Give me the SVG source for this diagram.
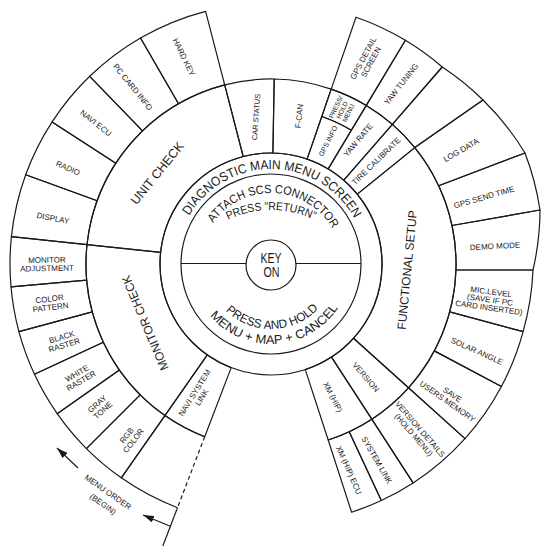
<svg xmlns="http://www.w3.org/2000/svg" width="542" height="557" viewBox="0 0 542 557">
<style>
.c{fill:none;stroke:#1a1a1a;stroke-width:1.2;stroke-linejoin:round}
.t{font-family:"Liberation Sans",Arial,sans-serif;font-size:8px;fill:#1a1a1a;text-anchor:middle}
.s75{font-size:7.5px}
.s7{font-size:7px}
.s6{font-size:6.5px}
.big{font-size:12.5px}
.m12{font-size:12px}
.ring{font-family:"Liberation Sans",Arial,sans-serif;fill:#1a1a1a}
.dash{fill:none;stroke:#1a1a1a;stroke-width:1.2;stroke-dasharray:4 3}
</style>
<defs>
<marker id="ah" viewBox="0 0 11 7" refX="11" refY="3.5" markerWidth="11" markerHeight="7" markerUnits="userSpaceOnUse" orient="auto"><path d="M0,0 L11,3.5 L0,7 Z" fill="#1a1a1a"/></marker>
<path id="arcDiag" d="M 176,264 A 95 95 0 0 1 366,264"/>
<path id="arcAttach" d="M 200,264 A 71 71 0 0 1 342,264"/>
<path id="arcReturn" d="M 171,310 A 100 100 0 0 1 371,310"/>
<path id="arcHold" d="M 206,264 A 65 65 0 0 0 336,264"/>
<path id="arcMenu" d="M 191,264 A 80 80 0 0 0 351,264"/>
</defs>
<rect width="542" height="557" fill="#fff"/>

<g id="diagnostic-main-menu-screen">
<circle class="c" cx="271" cy="264" r="111"/>
<circle class="c" cx="271" cy="264" r="90"/>
<text class="ring" font-size="13"><textPath href="#arcDiag" startOffset="50.5%" text-anchor="middle" textLength="200" lengthAdjust="spacingAndGlyphs">DIAGNOSTIC MAIN MENU SCREEN</textPath></text>
</g>
<g id="attach-scs-connector">
<text class="ring" font-size="12"><textPath href="#arcAttach" startOffset="51.5%" text-anchor="middle" textLength="142" lengthAdjust="spacingAndGlyphs">ATTACH SCS CONNECTOR</textPath></text>
<text class="ring" font-size="11.5"><textPath href="#arcReturn" startOffset="50%" text-anchor="middle" textLength="89" lengthAdjust="spacingAndGlyphs">PRESS "RETURN"</textPath></text>
</g>
<g id="press-and-hold">
<text class="ring" font-size="12"><textPath href="#arcHold" startOffset="50.7%" text-anchor="middle" textLength="103" lengthAdjust="spacingAndGlyphs">PRESS AND HOLD</textPath></text>
<text class="ring" font-size="12.5"><textPath href="#arcMenu" startOffset="52%" text-anchor="middle" textLength="149" lengthAdjust="spacingAndGlyphs">MENU + MAP + CANCEL</textPath></text>
</g>
<g id="key-on">
<path class="c" d="M 181,263.5 L 246,263.5 M 296,263.5 L 361,263.5"/>
<circle class="c" cx="271" cy="265" r="25"/>
<text class="ring" font-size="14" text-anchor="middle" x="271" y="263" textLength="21" lengthAdjust="spacingAndGlyphs">KEY</text>
<text class="ring" font-size="14" text-anchor="middle" x="271.5" y="276.5" textLength="16" lengthAdjust="spacingAndGlyphs">ON</text>
</g>

<g id="unit-check"><path class="c" d="M 160.6,252.4 L 87.0,244.7 A 185 185 0 0 1 224.7,84.9 L 243.2,156.5 A 111 111 0 0 0 160.6,252.4 Z"/><text class="t big" transform="translate(157,173) rotate(-51)" y="4.5">UNIT CHECK</text></g>
<g id="car-status"><path class="c" d="M 243.2,156.5 L 224.7,84.9 A 185 185 0 0 1 274.2,79.0 L 272.9,153.0 A 111 111 0 0 0 243.2,156.5 Z"/><text class="t s75" transform="translate(256,117) rotate(-86)" y="2.7">CAR STATUS</text></g>
<g id="f-can"><path class="c" d="M 272.9,153.0 L 274.2,79.0 A 185 185 0 0 1 331.2,89.1 L 307.1,159.1 A 111 111 0 0 0 272.9,153.0 Z"/><text class="t" transform="translate(299,116) rotate(-84)" y="2.9">F-CAN</text></g>
<g id="gps-info"><path class="c" d="M 307.1,159.1 L 321.8,116.5 A 156 156 0 0 1 351.3,130.3 L 328.2,168.9 A 111 111 0 0 0 307.1,159.1 Z"/><text class="t s7" transform="translate(328,141) rotate(-63)" y="2.5">GPS INFO</text></g>
<g id="press-hold-menu"><path class="c" d="M 321.8,116.5 L 331.2,89.1 A 185 185 0 0 1 366.3,105.4 L 351.3,130.3 A 156 156 0 0 0 321.8,116.5 Z"/><text class="t s6" transform="translate(342,110) rotate(-65)"><tspan x="0" y="-4.6">PRESS/</tspan><tspan x="0" y="2.3">HOLD</tspan><tspan x="0" y="9.2">MENU</tspan></text></g>
<g id="yaw-rate"><path class="c" d="M 328.2,168.9 L 366.3,105.4 A 185 185 0 0 1 392.4,124.4 L 343.8,180.2 A 111 111 0 0 0 328.2,168.9 Z"/><text class="t" transform="translate(358,140) rotate(-50)" y="2.9">YAW RATE</text></g>
<g id="tire-calibrate"><path class="c" d="M 343.8,180.2 L 392.4,124.4 A 185 185 0 0 1 414.8,147.6 L 357.3,194.1 A 111 111 0 0 0 343.8,180.2 Z"/><text class="t" transform="translate(376,161) rotate(-44)" y="2.9">TIRE CALIBRATE</text></g>
<g id="functional-setup"><path class="c" d="M 357.3,194.1 L 414.8,147.6 A 185 185 0 0 1 408.5,387.8 L 353.5,338.3 A 111 111 0 0 0 357.3,194.1 Z"/><text class="t m12" transform="translate(407,270) rotate(-84.5)" y="4.3">FUNCTIONAL SETUP</text></g>
<g id="version"><path class="c" d="M 353.5,338.3 L 408.5,387.8 A 185 185 0 0 1 371.8,419.2 L 331.5,357.1 A 111 111 0 0 0 353.5,338.3 Z"/><text class="t" transform="translate(366,377) rotate(49)" y="2.9">VERSION</text></g>
<g id="xm-hip"><path class="c" d="M 331.5,357.1 L 371.8,419.2 A 185 185 0 0 1 328.2,440.0 L 305.3,369.6 A 111 111 0 0 0 331.5,357.1 Z"/><text class="t" transform="translate(333,397) rotate(63)" y="2.9">XM (HIP)</text></g>
<g id="navi-system-link"><path class="c" d="M 231.2,367.6 L 204.7,436.7 A 185 185 0 0 1 164.9,415.6 L 207.3,354.9 A 111 111 0 0 0 231.2,367.6 Z"/><text class="t" transform="translate(198,395) rotate(-58)"><tspan x="0" y="-1.4">NAVI SYSTEM</tspan><tspan x="0" y="7.1">LINK</tspan></text></g>
<g id="monitor-check"><path class="c" d="M 207.3,354.9 L 164.9,415.6 A 185 185 0 0 1 87.0,244.7 L 160.6,252.4 A 111 111 0 0 0 207.3,354.9 Z"/><text class="t m12" transform="translate(145,323) rotate(-113)" y="4.3">MONITOR CHECK</text></g>

<g id="hard-key"><path class="c" d="M 178.5,103.8 L 140.5,38.0 A 261 261 0 0 1 205.6,11.3 L 224.7,84.9 A 185 185 0 0 0 178.5,103.8 Z"/><text class="t" transform="translate(184,57) rotate(64)" y="2.9">HARD KEY</text></g>
<g id="pc-card-info"><path class="c" d="M 142.5,130.9 L 89.7,76.3 A 261 261 0 0 1 140.5,38.0 L 178.5,103.8 A 185 185 0 0 0 142.5,130.9 Z"/><text class="t" transform="translate(133,87) rotate(51)" y="2.9">PC CARD INFO</text></g>
<g id="navi-ecu"><path class="c" d="M 115.8,163.2 L 52.1,121.9 A 261 261 0 0 1 89.7,76.3 L 142.5,130.9 A 185 185 0 0 0 115.8,163.2 Z"/><text class="t" transform="translate(96,123) rotate(38)" y="2.9">NAVI ECU</text></g>
<g id="radio"><path class="c" d="M 97.2,200.7 L 25.7,174.7 A 261 261 0 0 1 52.1,121.9 L 115.8,163.2 A 185 185 0 0 0 97.2,200.7 Z"/><text class="t" transform="translate(68,168) rotate(24)" y="2.9">RADIO</text></g>
<g id="display"><path class="c" d="M 87.0,244.7 L 11.4,236.7 A 261 261 0 0 1 25.7,174.7 L 97.2,200.7 A 185 185 0 0 0 87.0,244.7 Z"/><text class="t" transform="translate(53,218) rotate(11)" y="2.9">DISPLAY</text></g>
<g id="monitor-adjustment"><path class="c" d="M 86.7,280.1 L 11.0,286.8 A 261 261 0 0 1 11.4,236.7 L 87.0,244.7 A 185 185 0 0 0 86.7,280.1 Z"/><text class="t" transform="translate(47,264) rotate(-1)"><tspan x="0" y="-1.4">MONITOR</tspan><tspan x="0" y="7.1">ADJUSTMENT</tspan></text></g>
<g id="color-pattern"><path class="c" d="M 92.3,311.9 L 18.9,331.6 A 261 261 0 0 1 11.0,286.8 L 86.7,280.1 A 185 185 0 0 0 92.3,311.9 Z"/><text class="t" transform="translate(50,303) rotate(-7)"><tspan x="0" y="-1.4">COLOR</tspan><tspan x="0" y="7.1">PATTERN</tspan></text></g>
<g id="black-raster"><path class="c" d="M 103.3,342.2 L 34.5,374.3 A 261 261 0 0 1 18.9,331.6 L 92.3,311.9 A 185 185 0 0 0 103.3,342.2 Z"/><text class="t" transform="translate(63,341) rotate(-17)"><tspan x="0" y="-1.4">BLACK</tspan><tspan x="0" y="7.1">RASTER</tspan></text></g>
<g id="white-raster"><path class="c" d="M 119.4,370.1 L 57.2,413.7 A 261 261 0 0 1 34.5,374.3 L 103.3,342.2 A 185 185 0 0 0 119.4,370.1 Z"/><text class="t" transform="translate(79,377) rotate(-30)"><tspan x="0" y="-1.4">WHITE</tspan><tspan x="0" y="7.1">RASTER</tspan></text></g>
<g id="gray-tone"><path class="c" d="M 140.2,394.8 L 86.4,448.6 A 261 261 0 0 1 57.2,413.7 L 119.4,370.1 A 185 185 0 0 0 140.2,394.8 Z"/><text class="t" transform="translate(100,407) rotate(-42)"><tspan x="0" y="-1.4">GRAY</tspan><tspan x="0" y="7.1">TONE</tspan></text></g>
<g id="rgb-color"><path class="c" d="M 164.9,415.6 L 121.3,477.8 A 261 261 0 0 1 86.4,448.6 L 140.2,394.8 A 185 185 0 0 0 164.9,415.6 Z"/><text class="t" transform="translate(130,438) rotate(-52)"><tspan x="0" y="-1.4">RGB</tspan><tspan x="0" y="7.1">COLOR</tspan></text></g>
<g id="empty-cell-sw"><path class="c" d="M 177.5,507.7 A 261 261 0 0 1 121.3,477.8 L 164.9,415.6 A 185 185 0 0 0 204.7,436.7"/><path class="dash" d="M 204.7,436.7 L 177.5,507.7"/></g>

<g id="gps-detail-screen"><path class="c" d="M 331.2,89.1 L 356.0,17.2 A 261 261 0 0 1 405.4,40.3 L 366.3,105.4 A 185 185 0 0 0 331.2,89.1 Z"/><text class="t" transform="translate(367,60) rotate(-62)"><tspan x="0" y="-1.4">GPS DETAIL</tspan><tspan x="0" y="7.1">SCREEN</tspan></text></g>
<g id="yaw-tuning"><path class="c" d="M 366.3,105.4 L 405.4,40.3 A 261 261 0 0 1 442.2,67.0 L 392.4,124.4 A 185 185 0 0 0 366.3,105.4 Z"/><text class="t" transform="translate(401,84) rotate(-52)" y="2.9">YAW TUNING</text></g>
<g id="empty-cell-ne"><path class="c" d="M 392.4,124.4 L 442.2,67.0 A 265 265 0 0 1 483,100 L 414.8,147.6 A 185 185 0 0 0 392.4,124.4 Z"/></g>
<g id="log-data"><path class="c" d="M 414.8,147.6 L 483,100 A 268 268 0 0 1 525,153 L 438.7,185.8 A 185 185 0 0 0 414.8,147.6 Z"/><text class="t" transform="translate(461,150) rotate(-30)" y="2.9">LOG DATA</text></g>
<g id="gps-send-time"><path class="c" d="M 438.7,185.8 L 525,153 A 272 272 0 0 1 540,210 L 452,225.5 A 185 185 0 0 0 438.7,185.8 Z"/><text class="t" transform="translate(484,197) rotate(-16)" y="2.9">GPS SEND TIME</text></g>
<g id="demo-mode"><path class="c" d="M 452,225.5 L 540,210 A 270 270 0 0 1 533,270 L 456,270 A 185 185 0 0 0 452,225.5 Z"/><text class="t" transform="translate(495,246) rotate(-3)" y="2.9">DEMO MODE</text></g>
<g id="mic-level"><path class="c" d="M 456,270 L 533,270 A 265 265 0 0 1 523.1,331.6 L 449.7,311.9 A 185 185 0 0 0 456,270 Z"/><text class="t" transform="translate(490,300) rotate(8)"><tspan x="0" y="-5.5">MIC.LEVEL</tspan><tspan x="0" y="2.5">(SAVE IF PC</tspan><tspan x="0" y="10.5">CARD INSERTED)</tspan></text></g>
<g id="solar-angle"><path class="c" d="M 449.7,311.9 L 523.1,331.6 A 261 261 0 0 1 501.4,386.5 L 434.3,350.9 A 185 185 0 0 0 449.7,311.9 Z"/><text class="t" transform="translate(477,351) rotate(24)" y="2.9">SOLAR ANGLE</text></g>
<g id="save-users-memory"><path class="c" d="M 434.3,350.9 L 501.4,386.5 A 261 261 0 0 1 465.0,438.6 L 408.5,387.8 A 185 185 0 0 0 434.3,350.9 Z"/><text class="t" transform="translate(450,398) rotate(35)"><tspan x="0" y="-1.4">SAVE</tspan><tspan x="0" y="7.1">USERS MEMORY</tspan></text></g>
<g id="version-details"><path class="c" d="M 408.5,387.8 L 465.0,438.6 A 261 261 0 0 1 413.1,482.9 L 371.8,419.2 A 185 185 0 0 0 408.5,387.8 Z"/><text class="t" transform="translate(417,432) rotate(49)"><tspan x="0" y="-1.4">VERSION DETAILS</tspan><tspan x="0" y="7.1">(HOLD MENU)</tspan></text></g>
<g id="system-link"><path class="c" d="M 371.8,419.2 L 413.1,482.9 A 261 261 0 0 1 381.3,500.5 L 349.2,431.7 A 185 185 0 0 0 371.8,419.2 Z"/><text class="t" transform="translate(377,460) rotate(60)" y="2.9">SYSTEM LINK</text></g>
<g id="xm-hip-ecu"><path class="c" d="M 349.2,431.7 L 381.3,500.5 A 261 261 0 0 1 351.6,512.2 L 328.2,440.0 A 185 185 0 0 0 349.2,431.7 Z"/><text class="t" transform="translate(349,470) rotate(66)" y="2.9">XM (HIP) ECU</text></g>

<g id="menu-order">
<text class="t" transform="translate(108,492) rotate(35)" y="2.9">MENU ORDER</text>
<text class="t" transform="translate(103,504) rotate(35)" y="2.9">(BEGIN)</text>
</g>
<g id="connectors">
<path class="c" d="M 177.5,507.7 L 162.8,546"/>
<path class="c" d="M 170.3,526.3 L 143,515" marker-end="url(#ah)"/>
<path class="c" d="M 78,468 L 57,448" marker-end="url(#ah)"/>
</g>
</svg>
